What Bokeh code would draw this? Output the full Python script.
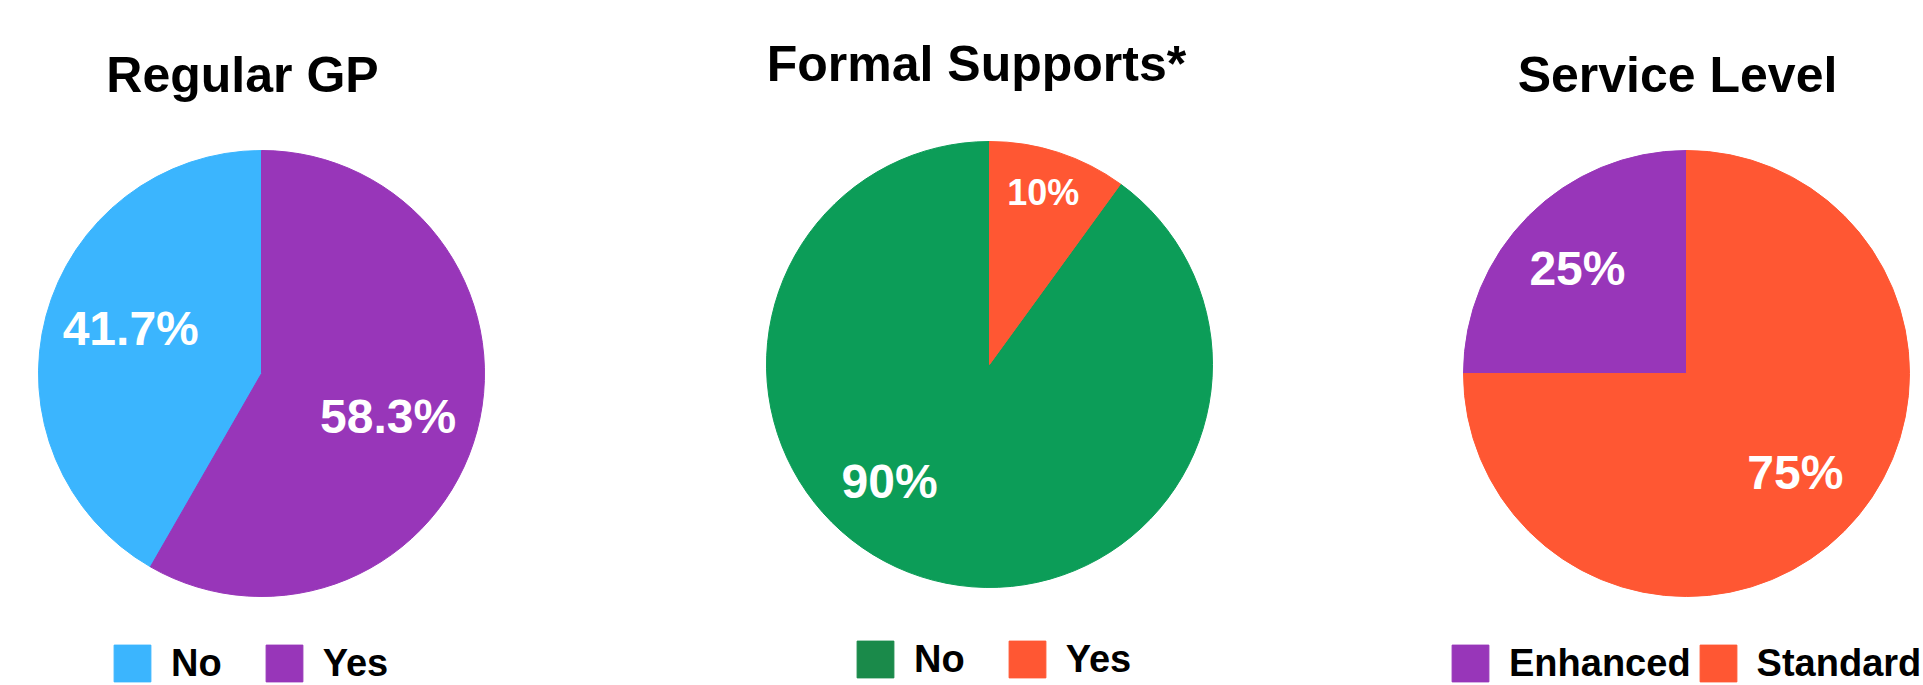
import math
from bokeh.plotting import figure
from bokeh.models import Range1d, Legend, LegendItem
from bokeh.embed import file_html
from bokeh.resources import INLINE
from bokeh.core.properties import value

W, H = 1923, 685

# ---------------- data ----------------
chart_titles = ["Regular GP", "Formal Supports*", "Service Level"]

regular_gp_labels = ["No", "Yes"]
regular_gp_values = [41.7, 58.3]

formal_supports_labels = ["No", "Yes"]
formal_supports_values = [90, 10]

service_level_labels = ["Enhanced", "Standard"]
service_level_values = [25, 75]

# ---------------- styles / layout ----------------
regular_gp_colors = ["#3bb5fe", "#9836b9"]
formal_supports_colors = ["#0c9d58", "#ff5733"]
formal_supports_legend_colors = ["#1a8a4a", "#ff5733"]
service_level_colors = ["#9836b9", "#ff5733"]

FONT = "Liberation Sans"
RADIUS = 223

# pie centres in screen pixels (x, y from top)
centres = [(261, 373), (989, 364), (1686, 373)]
# title anchor (centre x, vertical centre y from top)
title_pos = [(242, 74), (976, 63), (1677, 74)]
# label placement: fraction of radius, angle shift (deg), font size (px)
label_frac = [[0.62, 0.60], [0.69, 0.81], [0.68, 0.66]]
label_shift = [[-4, -4], [-22.5, 0.7], [1, 2.7]]
label_size = [[48, 48], [48, 36], [48, 48]]
# legend: left x, top y (screen), item spacing
legend_pos = [(109, 640, 39), (852, 636, 39), (1447, 640, 4)]

p = figure(width=W, height=H, x_range=Range1d(0, W), y_range=Range1d(0, H),
           output_backend="svg", toolbar_location=None, min_border=0,
           title=None)
p.xaxis.visible = False
p.yaxis.visible = False
p.xgrid.visible = False
p.ygrid.visible = False
p.outline_line_color = None
p.background_fill_color = "white"
p.border_fill_color = "white"

charts = [
    (regular_gp_labels, regular_gp_values, regular_gp_colors, regular_gp_colors),
    (formal_supports_labels, formal_supports_values, formal_supports_colors,
     formal_supports_legend_colors),
    (service_level_labels, service_level_values, service_level_colors,
     service_level_colors),
]


def fmt(v):
    return f"{v:.0f}%" if float(v).is_integer() else f"{v:.1f}%"


for ci, (labels, values, colors, lcolors) in enumerate(charts):
    cx, cy_s = centres[ci]
    cy = H - cy_s
    total = float(sum(values))
    starts, ends = [], []
    cum = 0.0
    for v in values:
        starts.append(90 + cum / total * 360)
        cum += v
        ends.append(90 + cum / total * 360)

    p.wedge(x=[cx] * len(values), y=[cy] * len(values), radius=RADIUS,
            start_angle=starts, end_angle=ends, start_angle_units="deg",
            end_angle_units="deg", fill_color=colors, line_color=colors,
            line_width=1, direction="anticlock")

    # percentage labels
    for i, v in enumerate(values):
        mid = math.radians((starts[i] + ends[i]) / 2 + label_shift[ci][i])
        d = label_frac[ci][i] * RADIUS
        size = label_size[ci][i]
        lx = cx + d * math.cos(mid)
        ly = cy + d * math.sin(mid)
        p.text(x=[lx], y=[ly], text=[fmt(v)], text_align="center",
               text_baseline="middle", text_color="white",
               text_font=value(FONT), text_font_style="bold",
               text_font_size=f"{size}px")

    # title
    tx, ty = title_pos[ci]
    p.text(x=[tx], y=[H - ty], text=[chart_titles[ci]], text_align="center",
           text_baseline="middle", text_color="black",
           text_font=value(FONT), text_font_style="bold",
           text_font_size="50px")

    # legend (proxy renderers carry the legend square colours)
    items = []
    for i, lab in enumerate(labels):
        r = p.rect(x=[-500], y=[-500], width=1, height=1,
                   fill_color=lcolors[i], line_color=lcolors[i])
        items.append(LegendItem(label=lab, renderers=[r]))
    lx0, ltop, lsp = legend_pos[ci]
    leg = Legend(items=items, orientation="horizontal",
                 location=(lx0, H - ltop - 46),
                 glyph_width=46, glyph_height=46, label_standoff=16,
                 spacing=lsp, padding=0, margin=0,
                 border_line_color=None, background_fill_alpha=0,
                 label_text_font=FONT, label_text_font_style="bold",
                 label_text_font_size="38px", label_text_color="black",
                 label_height=46)
    p.add_layout(leg, "center")

open("out.html", "w").write(file_html(p, INLINE))
